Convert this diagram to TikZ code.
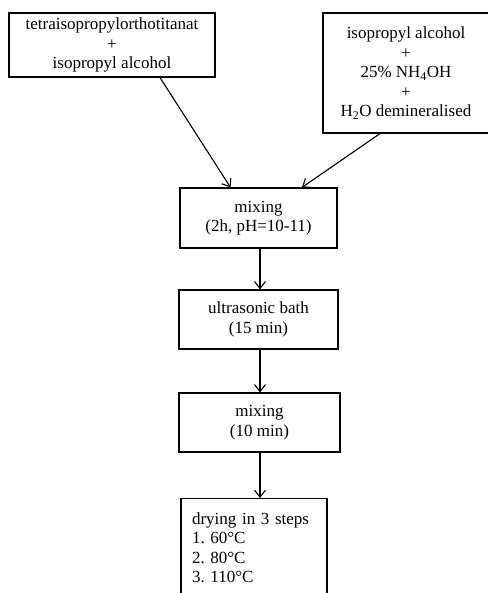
\documentclass[tikz,border=0pt]{standalone}
\usepackage{fontspec}
\setmainfont{Liberation Serif}
\usetikzlibrary{arrows.meta}

\tikzset{
    stepbox/.style={draw, line width=1.2pt, rectangle, align=center, inner sep=0pt},
    flow/.style={line width=1.1pt, -{Straight Barb[length=7pt,width=11pt,line width=1.1pt]}}
}

\begin{document}
\begin{tikzpicture}[x=1pt, y=-1pt, font=\fontsize{17}{19.5}\selectfont]
        \useasboundingbox (0,0) rectangle (487,593);

        % starting materials
        \node[stepbox, minimum width=206pt, minimum height=64pt] (tita) at (112,45)
            {tetraisopropylorthotitanat\\+\\isopropyl alcohol};
        \node[stepbox, minimum width=166pt, minimum height=120pt] (base) at (406,73)
            {isopropyl alcohol\\+\\25\% NH\textsubscript{4}OH\\+\\H\textsubscript{2}O demineralised};

        % process steps
        \node[stepbox, minimum width=157pt, minimum height=60pt] (mixa) at (258.5,218)
            {mixing\\(2h, pH=10-11)};
        \node[stepbox, minimum width=159pt, minimum height=59pt] (bath) at (258.5,319.5)
            {ultrasonic bath\\(15 min)};
        \node[stepbox, minimum width=161pt, minimum height=59pt] (mixb) at (259.5,422.5)
            {mixing\\(10 min)};
        \node[stepbox, align=left, text width=124pt, inner xsep=11pt, minimum height=98pt, anchor=north] (dry) at (254,498)
            {drying in 3 steps\\1.\ 60°C\\2.\ 80°C\\3.\ 110°C};

        \draw[flow] ([xshift=48pt]tita.south) -- ([xshift=-28pt]mixa.north);
        \draw[flow] ([xshift=-26pt]base.south) -- ([xshift=43.5pt]mixa.north);
        \draw[flow] ([xshift=1.5pt]mixa.south) -- ([xshift=1.5pt]mixa.south |- bath.north);
        \draw[flow] ([xshift=1.5pt]bath.south) -- ([xshift=1.5pt]bath.south |- mixb.north);
        \draw[flow] ([xshift=0.5pt]mixb.south) -- ([xshift=0.5pt]mixb.south |- dry.north);
    \end{tikzpicture}
\end{document}
